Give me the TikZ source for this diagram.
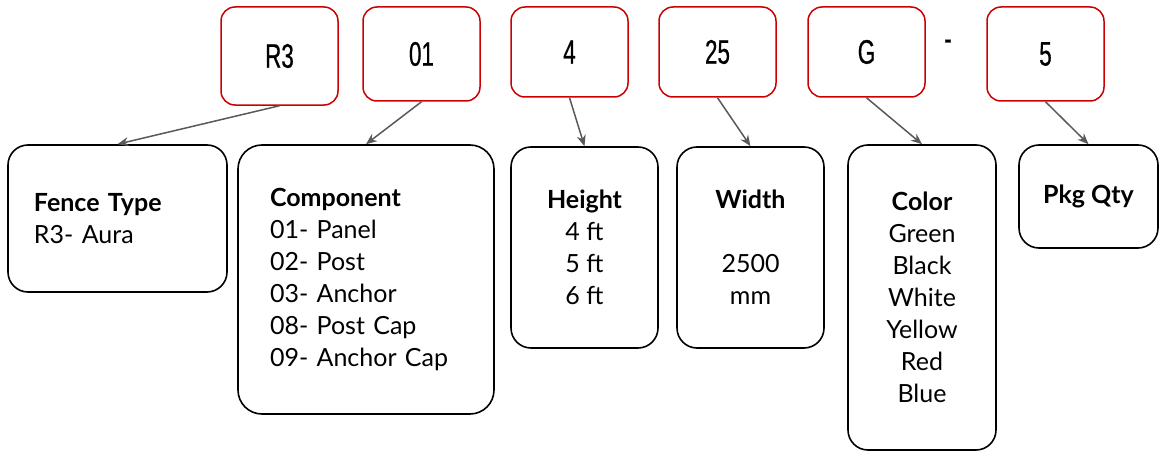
\documentclass[tikz,border=0pt]{standalone}
\usepackage{fontspec}
\setmainfont{Lato}
\newfontfamily\codefont[FakeStretch=0.66, FakeBold=0.6]{Liberation Sans}
\usetikzlibrary{arrows.meta}
\definecolor{codered}{HTML}{CC0000}
\definecolor{linkgray}{HTML}{595959}
\begin{document}
\begin{tikzpicture}[x=1pt, y=-1pt, line join=round, >={Stealth[length=11pt,width=9pt]},
	code/.style={draw=codered, line width=1.5pt, rounded corners=14pt, minimum width=117pt, inner sep=0pt, font=\codefont\fontsize{34}{34}\selectfont},
	field/.style={draw=black, line width=1.6pt, rounded corners=20pt, inner sep=0pt, font=\fontsize{25}{32}\selectfont},
	link/.style={->, draw=linkgray, line width=1.5pt}]
	\useasboundingbox (0,0) rectangle (1160,452);
	\node[code, minimum height=98pt] (r3) at (279.5,56) {R3};
	\node[code, minimum height=94pt] (c01) at (421.5,54) {01};
	\node[code, minimum height=90pt] (c4) at (569.5,52) {4};
	\node[code, minimum height=90pt] (c25) at (717.5,52) {25};
	\node[code, minimum height=90pt] (cg) at (866.5,52) {G};
	\node[font=\codefont\fontsize{34}{34}\selectfont, inner sep=0pt] (dash) at (948,45) {-};
	\node[code, minimum height=94pt] (c5) at (1045.5,54) {5};
	\node[field, inner xsep=26pt, text width=167pt, minimum height=147pt, align=left] (fence) at (117.5,218.5) {\textbf{Fence Type}\\R3- Aura};
	\node[field, rounded corners=24pt, inner xsep=32pt, text width=192pt, minimum height=269pt, align=left] (comp) at (366,279.5) {\textbf{Component}\\01- Panel\\02- Post\\03- Anchor\\08- Post Cap\\09- Anchor Cap};
	\node[field, minimum width=147pt, minimum height=201pt, align=center] (height) at (584.5,247.5) {\textbf{Height}\\4 ft\\5 ft\\6 ft};
	\node[field, minimum width=147pt, minimum height=201pt, align=center] (width) at (750.5,247.5) {\textbf{Width}\\[32pt]2500\\mm};
	\node[field, minimum width=148pt, minimum height=305pt, align=center] (color) at (922,297.5) {\textbf{Color}\\Green\\Black\\White\\Yellow\\Red\\Blue};
	\node[field, minimum width=139pt, minimum height=103pt, align=center] (pkg) at (1088.5,196.5) {\textbf{Pkg Qty}};
	\draw[link] (r3.south) -- (fence.north);
	\draw[link] (c01.south) -- (comp.north);
	\draw[link] (c4.south) -- (height.north);
	\draw[link] (c25.south) -- (width.north);
	\draw[link] (cg.south) -- (color.north);
	\draw[link] (c5.south) -- (pkg.north);
\end{tikzpicture}
\end{document}
